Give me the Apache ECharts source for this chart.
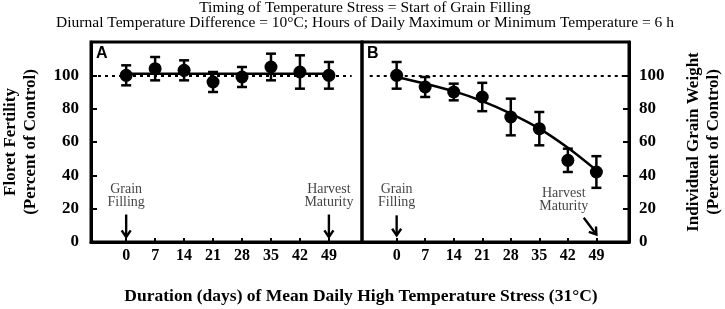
<!DOCTYPE html>
<html>
<head>
<meta charset="utf-8" />
<script src="https://cdn.jsdelivr.net/npm/echarts@6/dist/echarts.min.js"></script>
<title>Floret fertility and grain weight</title>
</head>
<body style="margin:0">
<div id="main" style="width:725px;height:309px;"></div>
<script type="text/javascript">
// days of stress (x ticks)
var days = [0, 7, 14, 21, 28, 35, 42, 49];
// panel A: floret fertility (% of control) and error half-widths
var fertility = [100, 104, 103, 96, 99, 105, 102, 100];
var fertilityErr = [6, 7, 6, 6, 6, 8, 10, 8];
var fertilityFitDays = [0, 49];
var fertilityFit = [101, 101];
// panel B: individual grain weight (% of control)
var grainWeight = [100, 93, 90, 87, 75, 68, 49, 42];
var grainWeightErr = [8, 6, 5, 8.5, 11, 10, 7, 9.5];
var grainWeightFit = [99, 95, 90.5, 84.5, 77, 68, 56.5, 43];
var yTicks = [0, 20, 40, 60, 80, 100];
// annotations: [x, y] text centre, arrows [x1, y1, x2, y2]
var notesA = [{ name: 'Grain\nFilling', value: [0, 28] }, { name: 'Harvest\nMaturity', value: [49, 28] }];
var arrowsA = [[0, 16.5, 0, 3], [49, 16.5, 49, 3]];
var notesB = [{ name: 'Grain\nFilling', value: [0, 27.5] }, { name: 'Harvest\nMaturity', value: [41, 25.5] }];
var arrowsB = [[0, 16, 0, 4], [45.9, 14.5, 49, 4.5]];

var serif = "'Liberation Serif', 'Times New Roman', serif";
var dom = document.getElementById("main");
var myChart = echarts.init(dom);

function pairs(xs, ys) {
  return xs.map(function (x, i) { return [x, ys[i]]; });
}
function errData(vals, errs) {
  return days.map(function (d, i) { return [d, vals[i] - errs[i], vals[i] + errs[i]]; });
}
// error bar with caps
function renderErr(params, api) {
  var top = api.coord([api.value(0), api.value(2)]);
  var bot = api.coord([api.value(0), api.value(1)]);
  var w = 5;
  var st = { stroke: '#000', lineWidth: 2.5 };
  return {
    type: 'group',
    children: [
      { type: 'line', shape: { x1: top[0], y1: top[1], x2: bot[0], y2: bot[1] }, style: st },
      { type: 'line', shape: { x1: top[0] - w, y1: top[1], x2: top[0] + w, y2: top[1] }, style: st },
      { type: 'line', shape: { x1: bot[0] - w, y1: bot[1], x2: bot[0] + w, y2: bot[1] }, style: st }
    ]
  };
}
// arrow with open V head
function renderArrow(params, api) {
  var a = api.coord([api.value(0), api.value(1)]);
  var b = api.coord([api.value(2), api.value(3)]);
  var ang = Math.atan2(b[1] - a[1], b[0] - a[0]);
  var h = 8, spread = 0.6;
  var p1 = [b[0] - h * Math.cos(ang - spread), b[1] - h * Math.sin(ang - spread)];
  var p2 = [b[0] - h * Math.cos(ang + spread), b[1] - h * Math.sin(ang + spread)];
  var st = { stroke: '#000', lineWidth: 2.4, fill: null };
  return {
    type: 'group',
    children: [
      { type: 'line', shape: { x1: a[0], y1: a[1], x2: b[0], y2: b[1] }, style: st },
      { type: 'polyline', shape: { points: [p1, b, p2] }, style: st }
    ]
  };
}
function notes(idx, labels) {
  return {
    type: 'scatter', xAxisIndex: idx, yAxisIndex: idx, symbolSize: 0, z: 5,
    data: labels,
    label: { show: true, position: 'inside', formatter: '{b}', fontFamily: serif, fontSize: 14, lineHeight: 13, color: '#111' }
  };
}
function xAxisCfg(idx) {
  return {
    type: 'value', gridIndex: idx, min: -8.5, max: 57,
    axisLine: { show: true, onZero: false, lineStyle: { color: '#000', width: 3 } },
    axisTick: { show: true, inside: true, length: 4, lineStyle: { width: 2, color: '#000' }, customValues: days },
    axisLabel: { customValues: days, margin: 6, fontFamily: serif, fontWeight: 'bold', fontSize: 16, color: '#000' },
    splitLine: { show: false }
  };
}
function yAxisCfg(idx, pos, name, gap) {
  return {
    type: 'value', gridIndex: idx, position: pos, min: 0, max: 120, interval: 20,
    name: name, nameLocation: 'middle', nameRotate: 90, nameGap: gap,
    nameTextStyle: { fontFamily: serif, fontWeight: 'bold', fontSize: 17, lineHeight: 20, color: '#000' },
    axisLine: { show: true, onZero: false, lineStyle: { color: '#000', width: 3 } },
    axisTick: { show: true, inside: true, length: 6, lineStyle: { width: 2, color: '#000' } },
    axisLabel: { showMaxLabel: false, margin: pos === 'left' ? 12 : 10, fontFamily: serif, fontWeight: 'bold', fontSize: 17, color: '#000',
      formatter: function (v) { return yTicks.indexOf(v) >= 0 ? v : ''; } },
    splitLine: { show: false }
  };
}
var dotted = { color: '#000', width: 2, type: [3, 4] };

var option = {
  animation: false,
  grid: [
    { left: 90, top: 42, width: 272, height: 200, show: true, borderColor: '#000', borderWidth: 3 },
    { left: 362, top: 42, width: 271, height: 200, show: true, borderColor: '#000', borderWidth: 3 }
  ],
  xAxis: [xAxisCfg(0), xAxisCfg(1)],
  yAxis: [
    yAxisCfg(0, 'left', 'Floret Fertility\n(Percent of Control)', 50),
    yAxisCfg(1, 'right', 'Individual Grain Weight\n(Percent of Control)', 55)
  ],
  graphic: [
    { type: 'text', x: 365, y: 8, style: { text: 'Timing of Temperature Stress = Start of Grain Filling', font: '15.5px ' + serif, fill: '#000', align: 'center', verticalAlign: 'middle' } },
    { type: 'text', x: 365, y: 23, style: { text: 'Diurnal Temperature Difference = 10\u00B0C; Hours of Daily Maximum or Minimum Temperature = 6 h', font: '15.5px ' + serif, fill: '#000', align: 'center', verticalAlign: 'middle' } },
    { type: 'text', x: 361, y: 296, style: { text: 'Duration (days) of Mean Daily High Temperature Stress (31\u00B0C)', font: 'bold 17.5px ' + serif, fill: '#000', align: 'center', verticalAlign: 'middle' } },
    { type: 'text', x: 96, y: 54, style: { text: 'A', font: 'bold 16px "Liberation Sans", Arial, sans-serif', fill: '#000', verticalAlign: 'middle' } },
    { type: 'text', x: 367, y: 54, style: { text: 'B', font: 'bold 16px "Liberation Sans", Arial, sans-serif', fill: '#000', verticalAlign: 'middle' } }
  ],
  series: [
    // panel A
    { type: 'line', xAxisIndex: 0, yAxisIndex: 0, data: pairs(fertilityFitDays, fertilityFit), symbol: 'none',
      lineStyle: { color: '#000', width: 2.5 },
      markLine: { silent: true, symbol: 'none', label: { show: false }, lineStyle: dotted,
        data: [[{ coord: [-8.5, 100] }, { coord: [54.5, 100] }]] } },
    { type: 'custom', xAxisIndex: 0, yAxisIndex: 0, renderItem: renderErr, data: errData(fertility, fertilityErr), z: 3 },
    { type: 'scatter', xAxisIndex: 0, yAxisIndex: 0, data: pairs(days, fertility), symbol: 'circle', symbolSize: 13,
      itemStyle: { color: '#000', opacity: 1 }, z: 4 },
    notes(0, notesA),
    { type: 'custom', xAxisIndex: 0, yAxisIndex: 0, renderItem: renderArrow, data: arrowsA, z: 5 },
    // panel B
    { type: 'line', xAxisIndex: 1, yAxisIndex: 1, data: pairs(days, grainWeightFit), symbol: 'none', smooth: 0.3,
      lineStyle: { color: '#000', width: 2.5 },
      markLine: { silent: true, symbol: 'none', label: { show: false }, lineStyle: dotted,
        data: [[{ coord: [-6.6, 100] }, { coord: [57, 100] }]] } },
    { type: 'custom', xAxisIndex: 1, yAxisIndex: 1, renderItem: renderErr, data: errData(grainWeight, grainWeightErr), z: 3 },
    { type: 'scatter', xAxisIndex: 1, yAxisIndex: 1, data: pairs(days, grainWeight), symbol: 'circle', symbolSize: 13,
      itemStyle: { color: '#000', opacity: 1 }, z: 4 },
    notes(1, notesB),
    { type: 'custom', xAxisIndex: 1, yAxisIndex: 1, renderItem: renderArrow, data: arrowsB, z: 5 }
  ]
};
myChart.setOption(option);
</script>
</body>
</html>
